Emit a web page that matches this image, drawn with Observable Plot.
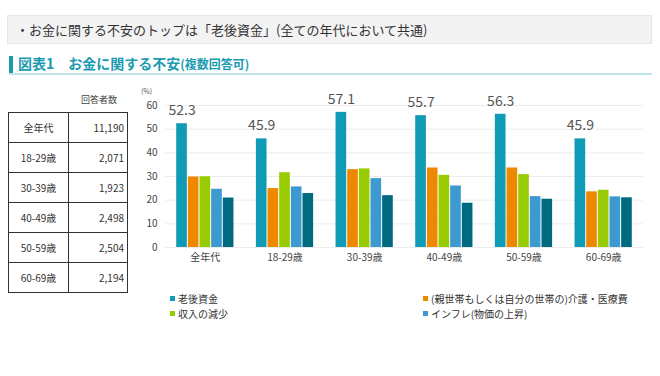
<!DOCTYPE html>
<html>
<head>
<meta charset="utf-8">
<script src="https://cdn.jsdelivr.net/npm/d3@7"></script>
<script src="https://cdn.jsdelivr.net/npm/@observablehq/plot@0.6"></script>
<style>
  body { margin: 0; background: #fff; font-family: "Noto Sans CJK JP", "Noto Sans", sans-serif; color: #333; }
  #wrap { position: relative; width: 660px; height: 376px; overflow: hidden; background: #fff; }
  .abs { position: absolute; }
  #header { left: 7px; top: 15px; width: 645px; height: 29px; background: #f3f3f3; border: 1px solid #e6e6e6; box-sizing: border-box; font-size: 13px; line-height: 27px; padding-left: 8px; color: #333; white-space: nowrap; }
  #titlebar { left: 9px; top: 56px; width: 4px; height: 17px; background: #1a9bb0; }
  #title { left: 18px; top: 53px; font-size: 14px; font-weight: bold; color: #1a9bb0; white-space: nowrap; line-height: 20px; }
  #title small { font-size: 12px; }
  #underline { left: 9px; top: 73px; width: 643px; height: 2px; background: #bfe4ea; }
  #resp { left: 72px; top: 93px; width: 54px; text-align: center; font-size: 9px; color: #444; }
  table { position: absolute; left: 8px; top: 112px; border-collapse: collapse; font-size: 10px; color: #333; }
  td { border: 1px solid #333; height: 30px; padding: 0; box-sizing: border-box; }
  td.c1 { width: 60px; text-align: center; }
  td.c2 { width: 59px; text-align: right; padding-right: 3px; }
  #pct { left: 141px; top: 86px; font-size: 7px; color: #555; }
  #chart { left: 130px; top: 85px; }
  #legend { left: 170px; top: 292px; width: 480px; font-size: 10px; color: #333; }
  .li { position: absolute; white-space: nowrap; line-height: 14px; height: 14px; }
  .sw { display: inline-block; width: 5px; height: 5px; margin-right: 3px; vertical-align: 2px; }
</style>
</head>
<body>
<div id="wrap">
  <div id="header" class="abs">・お金に関する不安のトップは「老後資金」(全ての年代において共通)</div>
  <div id="titlebar" class="abs"></div>
  <div id="title" class="abs">図表1　お金に関する不安<small>(複数回答可)</small></div>
  <div id="underline" class="abs"></div>
  <div id="resp" class="abs">回答者数</div>
  <table id="tbl"></table>
  <div id="pct" class="abs">(%)</div>
  <div id="chart" class="abs"></div>
  <div id="legend" class="abs"></div>
</div>
<script>
const groups = ["全年代", "18-29歳", "30-39歳", "40-49歳", "50-59歳", "60-69歳"];
const respondents = ["11,190", "2,071", "1,923", "2,498", "2,504", "2,194"];
const series = ["老後資金", "(親世帯もしくは自分の世帯の)介護・医療費", "収入の減少", "インフレ(物価の上昇)", "その他"];
const colors = ["#0f9bb5", "#ee8800", "#99cc00", "#3c9ad0", "#006a80"];
const values = [
  [52.3, 45.9, 57.1, 55.7, 56.3, 45.9],
  [29.8, 24.9, 32.9, 33.6, 33.6, 23.5],
  [29.9, 31.6, 33.2, 30.5, 30.8, 24.2],
  [24.6, 25.6, 29.1, 26.0, 21.5, 21.4],
  [20.9, 22.8, 21.9, 18.7, 20.4, 21.0]
];
const yTicks = [0, 10, 20, 30, 40, 50, 60];
const legendSeries = [0, 1, 2, 3];

// table
const tbl = document.getElementById("tbl");
groups.forEach((g, i) => {
  const tr = document.createElement("tr");
  tr.innerHTML = `<td class="c1">${g}</td><td class="c2">${respondents[i]}</td>`;
  tbl.appendChild(tr);
});

const data = [];
series.forEach((s, si) => groups.forEach((g, gi) => data.push({group: g, series: s, value: values[si][gi], si})));

const chart = Plot.plot({
  width: 520,
  height: 185,
  marginLeft: 35,
  marginRight: 7,
  marginTop: 20,
  marginBottom: 23,
  style: {fontFamily: '"Noto Sans CJK JP", sans-serif', fontSize: "10px", color: "#444", background: "transparent"},
  fx: {domain: groups, padding: 0, round: false, label: null, axis: "bottom", tickSize: 0, tickPadding: 6},
  x: {domain: series, axis: null, paddingInner: 0, paddingOuter: 0.92, round: false},
  y: {domain: [0, 60], ticks: yTicks, label: null, tickSize: 0, tickPadding: 8},
  color: {domain: series, range: colors},
  marks: [
    Plot.ruleY(yTicks, {stroke: "#ececec", strokeWidth: 1}),
    Plot.barY(data, {fx: "group", x: "series", y: "value", fill: "series", insetLeft: 0.5, insetRight: 0.5}),
    Plot.text(data.filter(d => d.si === 0), {fx: "group", x: "series", y: "value", text: d => d.value.toFixed(1), dy: -13, fontSize: 14, fill: "#555"})
  ]
});
document.getElementById("chart").appendChild(chart);

// legend
const leg = document.getElementById("legend");
const pos = [[0, 0], [253, 0], [0, 14.5], [253, 14.5]];
legendSeries.forEach((si, k) => {
  const d = document.createElement("div");
  d.className = "li";
  d.style.left = pos[k][0] + "px";
  d.style.top = pos[k][1] + "px";
  d.innerHTML = `<span class="sw" style="background:${colors[si]}"></span>${series[si]}`;
  leg.appendChild(d);
});
</script>
</body>
</html>
